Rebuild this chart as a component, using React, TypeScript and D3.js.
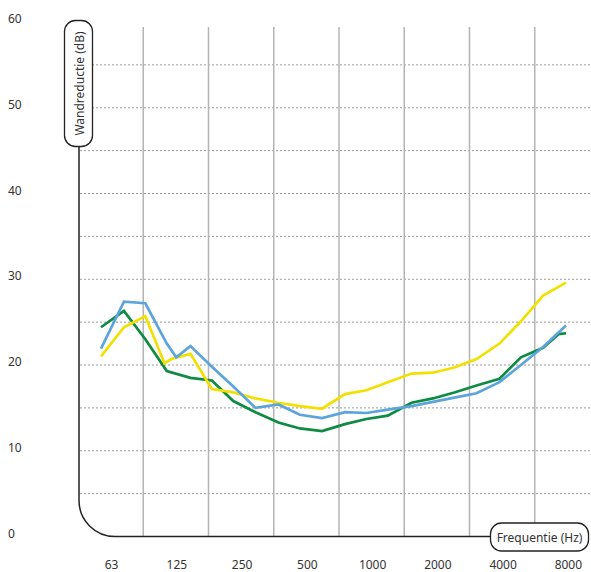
import React from "react";
import * as d3 from "d3";

const freqLabels = ["63", "125", "250", "500", "1000", "2000", "4000", "8000"];
const yTickValues = [0, 10, 20, 30, 40, 50, 60];
const dottedGridValues = [5, 10, 15, 20, 25, 30, 35, 40, 45, 50, 55];

const greenFreq = [63, 80, 100, 125, 160, 200, 250, 315, 400, 500, 630, 800, 1000, 1250, 1600, 2000, 2500, 3150, 4000, 5000, 6300, 7400, 8000];
const greenValues = [24.4, 26.3, 23.0, 19.3, 18.5, 18.2, 15.8, 14.5, 13.3, 12.6, 12.3, 13.1, 13.7, 14.1, 15.6, 16.1, 16.8, 17.6, 18.4, 20.9, 22.0, 23.6, 23.7];

const yellowFreq = [63, 80, 100, 122, 131, 160, 200, 250, 315, 400, 500, 630, 800, 1000, 1250, 1600, 2000, 2500, 3150, 4000, 5000, 6300, 8000];
const yellowValues = [21.0, 24.4, 25.7, 20.2, 20.7, 21.3, 17.2, 16.8, 16.1, 15.6, 15.2, 14.9, 16.6, 17.05, 18.0, 19.0, 19.1, 19.7, 20.7, 22.5, 25.1, 28.1, 29.6];

const blueFreq = [63, 80, 100, 125, 138, 160, 200, 250, 315, 400, 500, 630, 800, 1000, 1250, 1600, 2000, 2500, 3150, 4000, 5000, 6300, 8000];
const blueValues = [21.9, 27.4, 27.2, 22.5, 20.9, 22.2, 19.8, 17.5, 15.0, 15.4, 14.2, 13.8, 14.5, 14.4, 14.8, 15.2, 15.7, 16.2, 16.7, 18.0, 20.0, 22.1, 24.6];

const series = [
  { name: "green", color: "#0e8a42", freq: greenFreq, values: greenValues },
  { name: "yellow", color: "#f2e100", freq: yellowFreq, values: yellowValues },
  { name: "blue", color: "#5ba5dc", freq: blueFreq, values: blueValues },
];

const W = 591;
const H = 572;
const FONT = "'Noto Sans', 'Open Sans', sans-serif";

export default function App() {
  const y = d3.scaleLinear().domain([0, 60]).range([536.5, 22]);
  const xLine = d3.scaleLog().domain([63, 8000]).range([101, 566]);
  const xBand = d3.scaleBand<string>().domain(freqLabels).range([78, 600]);

  const axisX = 79;
  const axisY = y(0);
  const r = 36;

  const line = d3
    .line<[number, number]>()
    .x((d) => xLine(d[0]))
    .y((d) => y(d[1]));

  const boundaries = freqLabels.slice(1).map((f) => xBand(f) as number);

  return (
    <svg
      width={W}
      height={H}
      style={{ position: "absolute", left: 0, top: 0, background: "#fff" }}
      fontFamily={FONT}
    >
      {dottedGridValues.map((v) => (
        <line
          key={"h" + v}
          x1={80}
          x2={W}
          y1={y(v)}
          y2={y(v)}
          stroke="#9a9a9a"
          strokeWidth={1}
          strokeDasharray="2,2"
        />
      ))}
      {boundaries.map((bx, i) => (
        <line
          key={"v" + i}
          x1={bx}
          x2={bx}
          y1={27}
          y2={axisY}
          stroke="#b4b4b4"
          strokeWidth={1.5}
        />
      ))}
      {series.map((s) => (
        <path
          key={s.name}
          d={line(s.freq.map((f, i) => [f, s.values[i]] as [number, number])) || ""}
          fill="none"
          stroke={s.color}
          strokeWidth={2.7}
        />
      ))}
      <path
        d={`M${axisX},147 V${axisY - r} A${r},${r} 0 0 0 ${axisX + r},${axisY} H492`}
        fill="none"
        stroke="#222"
        strokeWidth={1.5}
      />
      {yTickValues.map((v) => (
        <text
          key={"yt" + v}
          x={8}
          y={y(v) - 2}
          dominantBaseline="middle"
          fontSize={12}
          fill="#333"
        >
          {v}
        </text>
      ))}
      {freqLabels.map((f) => (
        <text
          key={"xt" + f}
          x={(xBand(f) as number) + xBand.bandwidth() / 2 + 1}
          y={566}
          textAnchor="middle"
          dominantBaseline="middle"
          fontSize={12}
          fill="#333"
        >
          {f}
        </text>
      ))}
      <rect x={64.5} y={20.5} width={28} height={126} rx={11} ry={11} fill="#fff" stroke="#222" strokeWidth={1.3} />
      <text
        transform={`translate(79,83.5) rotate(-90)`}
        textAnchor="middle"
        dominantBaseline="central"
        fontSize={12}
        fill="#333"
      >
        Wandreductie (dB)
      </text>
      <rect x={490.5} y={523} width={98} height={28} rx={11} ry={11} fill="#fff" stroke="#222" strokeWidth={1.3} />
      <text
        x={539.5}
        y={537}
        textAnchor="middle"
        dominantBaseline="central"
        fontSize={12}
        fill="#333"
      >
        Frequentie (Hz)
      </text>
    </svg>
  );
}
